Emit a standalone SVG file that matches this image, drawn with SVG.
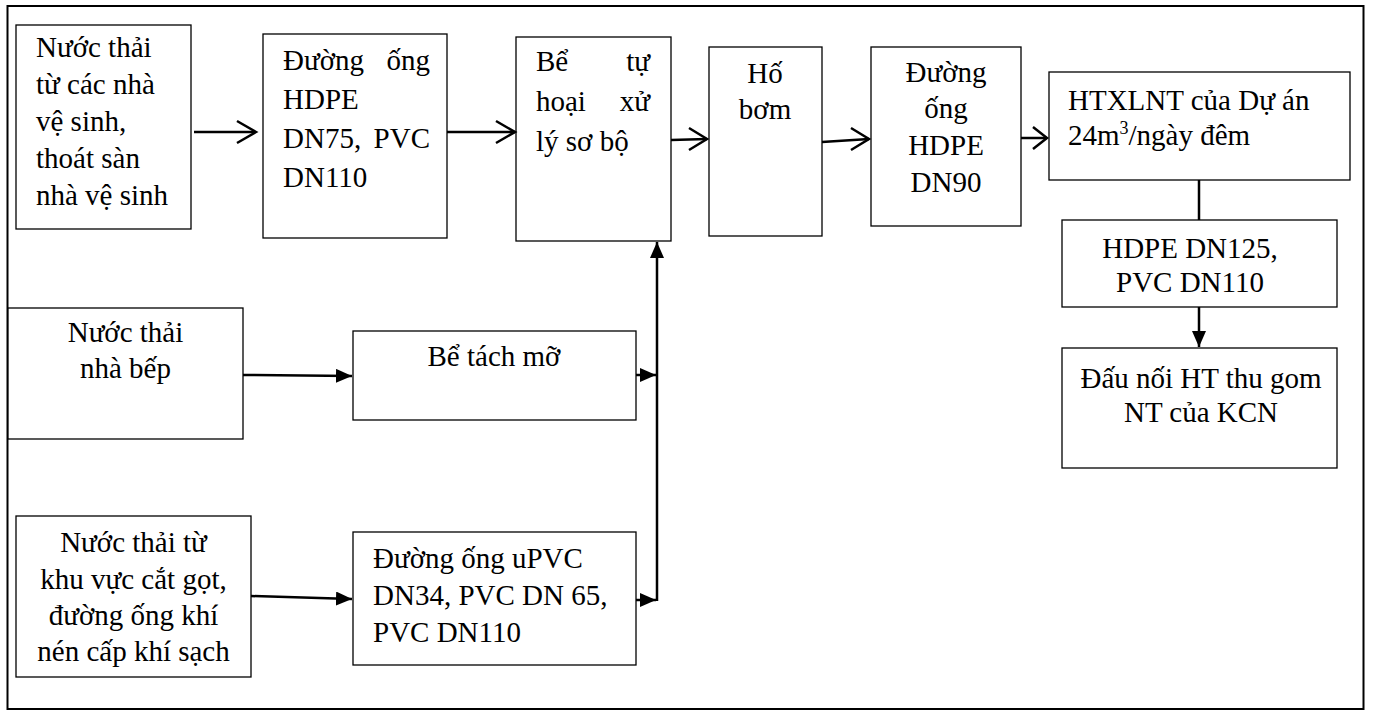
<svg xmlns="http://www.w3.org/2000/svg" width="1373" height="718" viewBox="0 0 1373 718" font-family="Liberation Serif, Tinos, Times New Roman, DejaVu Serif, serif">
  <style>
    .frame { fill: none; stroke: #000; stroke-width: 2; }
    .box { fill: #fff; stroke: #000; stroke-width: 1.3; }
    .t { font-family: 'Liberation Serif', Tinos, 'Times New Roman', 'DejaVu Serif', serif; font-size: 29px; fill: #000; }
    .c { text-anchor: middle; }
    .e { text-anchor: end; }
    .ln { fill: none; stroke: #000; stroke-width: 2.5; }
    .open { fill: none; stroke: #000; stroke-width: 2.5; stroke-linejoin: miter; }
  </style>
  <defs>
    <marker id="solid" viewBox="0 0 16 14" refX="16" refY="7" markerWidth="16" markerHeight="14" markerUnits="userSpaceOnUse" orient="auto">
      <path d="M0,0 L16,7 L0,14 Z" fill="#000"/>
    </marker>
  </defs>

  <rect class="frame" x="7.5" y="6" width="1356" height="703"/>

  <g id="n1">
    <rect class="box" x="16" y="25" width="175" height="204"/>
    <text class="t" x="36" y="57">Nước thải</text>
    <text class="t" x="36" y="94">từ các nhà</text>
    <text class="t" x="36" y="131">vệ sinh,</text>
    <text class="t" x="36" y="168">thoát sàn</text>
    <text class="t" x="36" y="205">nhà vệ sinh</text>
  </g>

  <g id="n2">
    <rect class="box" x="263" y="34" width="184" height="204"/>
    <text class="t" x="283" y="70">Đường</text>
    <text class="t e" x="430" y="70">ống</text>
    <text class="t" x="283" y="109">HDPE</text>
    <text class="t" x="283" y="148">DN75,</text>
    <text class="t e" x="430" y="148">PVC</text>
    <text class="t" x="283" y="187">DN110</text>
  </g>

  <g id="n3">
    <rect class="box" x="516" y="37" width="155" height="204"/>
    <text class="t" x="536" y="71">Bể</text>
    <text class="t e" x="650" y="71">tự</text>
    <text class="t" x="536" y="111">hoại</text>
    <text class="t e" x="650" y="111">xử</text>
    <text class="t" x="536" y="151">lý sơ bộ</text>
  </g>

  <g id="n4">
    <rect class="box" x="709" y="47" width="113" height="189"/>
    <text class="t c" x="765" y="83">Hố</text>
    <text class="t c" x="765" y="119">bơm</text>
  </g>

  <g id="n5">
    <rect class="box" x="871" y="47" width="150" height="179"/>
    <text class="t c" x="946" y="82">Đường</text>
    <text class="t c" x="946" y="118">ống</text>
    <text class="t c" x="946" y="155">HDPE</text>
    <text class="t c" x="946" y="192">DN90</text>
  </g>

  <g id="n6">
    <rect class="box" x="1049" y="72" width="301" height="108"/>
    <text class="t" x="1068" y="110">HTXLNT của Dự án</text>
    <text class="t" x="1068" y="145">24m<tspan font-size="18" dy="-11">3</tspan><tspan dy="11">/ngày đêm</tspan></text>
  </g>

  <g id="n7">
    <rect class="box" x="1062" y="220" width="275" height="87"/>
    <text class="t c" x="1190" y="258">HDPE DN125,</text>
    <text class="t c" x="1190" y="292">PVC DN110</text>
  </g>

  <g id="n8">
    <rect class="box" x="1062" y="348" width="275" height="120"/>
    <text class="t c" x="1201" y="388">Đấu nối HT thu gom</text>
    <text class="t c" x="1201" y="422">NT của KCN</text>
  </g>

  <g id="n9">
    <rect class="box" x="8" y="308" width="235" height="131"/>
    <text class="t c" x="125.5" y="342">Nước thải</text>
    <text class="t c" x="125.5" y="378">nhà bếp</text>
  </g>

  <g id="n10">
    <rect class="box" x="353" y="331" width="283" height="89"/>
    <text class="t c" x="494" y="366">Bể tách mỡ</text>
  </g>

  <g id="n11">
    <rect class="box" x="16" y="516" width="235" height="161"/>
    <text class="t c" x="133.5" y="552">Nước thải từ</text>
    <text class="t c" x="133.5" y="589">khu vực cắt gọt,</text>
    <text class="t c" x="133.5" y="625">đường ống khí</text>
    <text class="t c" x="133.5" y="661">nén cấp khí sạch</text>
  </g>

  <g id="n12">
    <rect class="box" x="353" y="532" width="283" height="133"/>
    <text class="t" x="373" y="568">Đường ống uPVC</text>
    <text class="t" x="373" y="605">DN34, PVC DN 65,</text>
    <text class="t" x="373" y="642">PVC DN110</text>
  </g>

  <g id="connectors">
    <!-- top row: open arrowheads -->
    <line class="ln" x1="194" y1="132" x2="256" y2="132"/>
    <polyline class="open" points="237,121 256,132 237,143"/>
    <line class="ln" x1="447" y1="132" x2="515" y2="132"/>
    <polyline class="open" points="496,121 515,132 496,143"/>
    <line class="ln" x1="671" y1="140" x2="707" y2="139"/>
    <polyline class="open" points="689,128 707,139 689,150"/>
    <line class="ln" x1="822" y1="142" x2="869" y2="139"/>
    <polyline class="open" points="851,128 869,139 851,150"/>
    <line class="ln" x1="1021" y1="138" x2="1047" y2="138"/>
    <polyline class="open" points="1033,127 1047,138 1033,149"/>

    <!-- right column -->
    <line class="ln" x1="1199" y1="180" x2="1199" y2="220"/>
    <line class="ln" x1="1199" y1="307" x2="1199" y2="347" marker-end="url(#solid)"/>

    <!-- lower branches: filled arrowheads -->
    <line class="ln" x1="243" y1="375" x2="352" y2="376" marker-end="url(#solid)"/>
    <line class="ln" x1="636" y1="375" x2="656" y2="375" marker-end="url(#solid)"/>
    <line class="ln" x1="251" y1="596" x2="352" y2="599" marker-end="url(#solid)"/>
    <line class="ln" x1="636" y1="600" x2="656" y2="600" marker-end="url(#solid)"/>
    <line class="ln" x1="657" y1="601" x2="657" y2="242" marker-end="url(#solid)"/>
  </g>
</svg>
